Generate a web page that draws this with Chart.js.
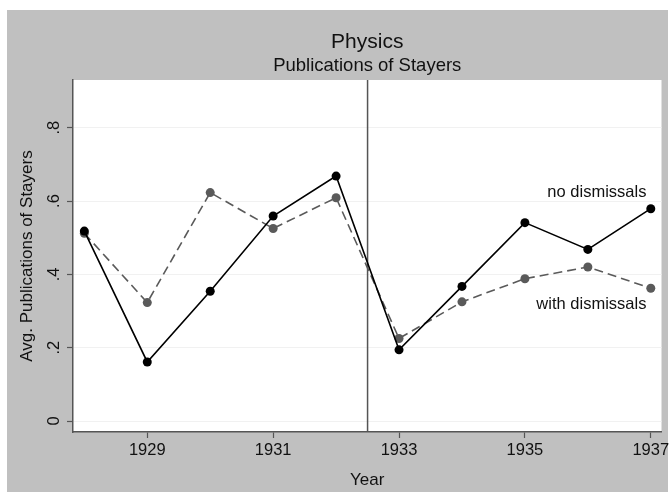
<!DOCTYPE html>
<html>
<head>
<meta charset="utf-8">
<script src="https://cdn.jsdelivr.net/npm/chart.js@4"></script>
<style>
  html, body { margin: 0; padding: 0; background: #ffffff; }
  #frame { position: absolute; left: 7px; top: 10px; width: 661px; height: 482px; background: #c0c0c0; }
  #wrap { position: absolute; left: 0; top: 0; width: 670px; height: 492px; }
</style>
</head>
<body>
<div id="frame"></div>
<div id="wrap"><canvas id="chart" width="670" height="492"></canvas></div>
<script>
// ───────────────────────── DATA ─────────────────────────
const years          = [1928, 1929, 1930, 1931, 1932, 1933, 1934, 1935, 1936, 1937];
const noDismissals   = [0.518, 0.161, 0.354, 0.559, 0.668, 0.194, 0.367, 0.541, 0.468, 0.579];
const withDismissals = [0.512, 0.323, 0.623, 0.525, 0.609, 0.225, 0.325, 0.388, 0.420, 0.362];
const seriesNames    = ["no dismissals", "with dismissals"];
const xTicks         = [1929, 1931, 1933, 1935, 1937];
const yTicks         = [0, 0.2, 0.4, 0.6, 0.8];
const cutoffYear     = 1932.5;
const titleText      = "Physics";
const subtitleText   = "Publications of Stayers";

const FONT = "'Liberation Sans', Arial, Helvetica, sans-serif";
const AXIS_COLOR = "#555555";

// ───────────────────────── PLUGINS ─────────────────────────
// white plot region, cutoff line, titles and series labels
const stataLook = {
    id: "stataLook",
    beforeDraw(chart) {
        const { ctx, chartArea: a } = chart;
        ctx.save();
        ctx.fillStyle = "#ffffff";
        ctx.fillRect(a.left, a.top, a.right - a.left, a.bottom - a.top);
        ctx.restore();
    },
    beforeDatasetsDraw(chart) {
        const { ctx, chartArea: a, scales } = chart;
        const x = scales.x.getPixelForValue(cutoffYear);
        ctx.save();
        ctx.strokeStyle = AXIS_COLOR;
        ctx.lineWidth = 1.5;
        ctx.beginPath();
        ctx.moveTo(x, a.top);
        ctx.lineTo(x, a.bottom);
        ctx.stroke();
        ctx.restore();
    },
    afterDraw(chart) {
        const { ctx, chartArea: a, scales } = chart;
        const cx = (a.left + a.right) / 2;
        ctx.save();
        ctx.fillStyle = "#111111";
        ctx.textAlign = "center";
        ctx.textBaseline = "alphabetic";
        ctx.font = "21px " + FONT;
        ctx.fillText(titleText, cx, 48);
        ctx.font = "18.5px " + FONT;
        ctx.fillText(subtitleText, cx, 71);

        // series labels placed next to the last points
        ctx.font = "16.5px " + FONT;
        ctx.textAlign = "right";
        ctx.textBaseline = "middle";
        const lx = scales.x.getPixelForValue(1936.93);
        ctx.fillText(seriesNames[0], lx, scales.y.getPixelForValue(0.622));
        ctx.fillText(seriesNames[1], lx, scales.y.getPixelForValue(0.319));
        ctx.restore();
    }
};

// ───────────────────────── CHART ─────────────────────────
const ctx = document.getElementById("chart").getContext("2d");
new Chart(ctx, {
    type: "line",
    data: {
        labels: years,
        datasets: [{
            label:            seriesNames[0],
            data:             years.map((y, i) => ({ x: y, y: noDismissals[i] })),
            borderColor:      "#000000",
            backgroundColor:  "#000000",
            borderWidth:      1.6,
            pointRadius:      4.5,
            pointBorderWidth: 0,
            tension:          0
        }, {
            label:            seriesNames[1],
            data:             years.map((y, i) => ({ x: y, y: withDismissals[i] })),
            borderColor:      "#5a5a5a",
            backgroundColor:  "#5a5a5a",
            borderWidth:      1.6,
            borderDash:       [9, 5],
            pointRadius:      4.5,
            pointBorderWidth: 0,
            tension:          0
        }]
    },
    options: {
        responsive: false,
        animation:  false,
        layout: { padding: { top: 80, right: 8.5, bottom: 0, left: 0 } },
        scales: {
            x: {
                type: "linear",
                min:  1927.82,
                max:  1937.17,
                afterBuildTicks: s => { s.ticks = xTicks.map(v => ({ value: v })); },
                afterFit: s => { s.height = 60; s.paddingLeft = 0; s.paddingRight = 0; },
                ticks: {
                    color: "#111111",
                    font: { family: FONT, size: 16.5 },
                    padding: 3,
                    maxRotation: 0,
                    callback: v => String(v)
                },
                grid:   { drawOnChartArea: false, tickLength: 6, tickColor: AXIS_COLOR, tickWidth: 1.2 },
                border: { color: AXIS_COLOR, width: 1.5 },
                title:  { display: true, text: "Year", color: "#111111", font: { family: FONT, size: 17 }, padding: { top: 0, bottom: 1 } }
            },
            y: {
                min: -0.03,
                max: 0.93,
                afterBuildTicks: s => { s.ticks = yTicks.map(v => ({ value: v })); },
                afterFit: s => { s.width = 73; s.paddingTop = 0; s.paddingBottom = 0; },
                ticks: {
                    color: "#111111",
                    font: { family: FONT, size: 16.5 },
                    padding: 6,
                    minRotation: 90,
                    maxRotation: 90,
                    crossAlign: "center",
                    callback: v => v === 0 ? "0" : v.toFixed(1).replace(/^0/, "")
                },
                grid:   { color: "#f1f1f1", lineWidth: 1, tickLength: 6, tickColor: AXIS_COLOR, tickWidth: 1.2 },
                border: { color: AXIS_COLOR, width: 1.5 },
                title:  { display: true, text: "Avg. Publications of Stayers", color: "#111111", font: { family: FONT, size: 17 }, padding: { top: 17, bottom: 0 } }
            }
        },
        plugins: {
            legend:  { display: false },
            tooltip: { enabled: false }
        }
    },
    plugins: [stataLook]
});
</script>
</body>
</html>
